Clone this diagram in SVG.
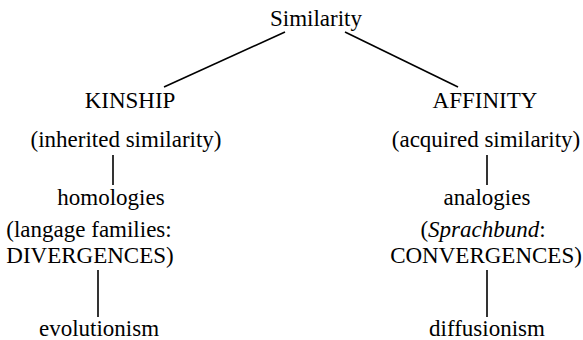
<svg xmlns="http://www.w3.org/2000/svg" width="583" height="340" viewBox="0 0 583 340">
<style>
.lbl text{font-family:"Liberation Serif","Times New Roman",serif;font-size:23px;fill:#000;text-anchor:middle}
.c line{stroke:#000;stroke-width:1.6}
</style>
<rect width="583" height="340" fill="#fff"/>
<g class="c" id="connectors">
<line x1="285" y1="32" x2="164" y2="87"/>
<line x1="345" y1="32" x2="458" y2="87"/>
<line x1="113" y1="155" x2="113" y2="185"/>
<line x1="487" y1="155" x2="487" y2="185"/>
<line x1="98" y1="270" x2="98" y2="317"/>
<line x1="487" y1="270" x2="487" y2="317"/>
</g>
<g class="lbl" font-family="Liberation Serif" font-size="23" text-anchor="middle">
<g id="similarity"><text x="316" y="26">Similarity</text></g>
<g id="kinship"><text x="130" y="108">KINSHIP</text><text x="126" y="147">(inherited similarity)</text></g>
<g id="affinity"><text x="485" y="108">AFFINITY</text><text x="486" y="147">(acquired similarity)</text></g>
<g id="homologies"><text x="111" y="205">homologies</text><text x="89" y="237">(langage families:</text><text x="90" y="263">DIVERGENCES)</text></g>
<g id="analogies"><text x="487" y="205">analogies</text><text x="483" y="237">(<tspan font-style="italic">Sprachbund</tspan>:</text><text x="486" y="263">CONVERGENCES)</text></g>
<g id="evolutionism"><text x="99" y="336">evolutionism</text></g>
<g id="diffusionism"><text x="487" y="336">diffusionism</text></g>
</g>
</svg>
